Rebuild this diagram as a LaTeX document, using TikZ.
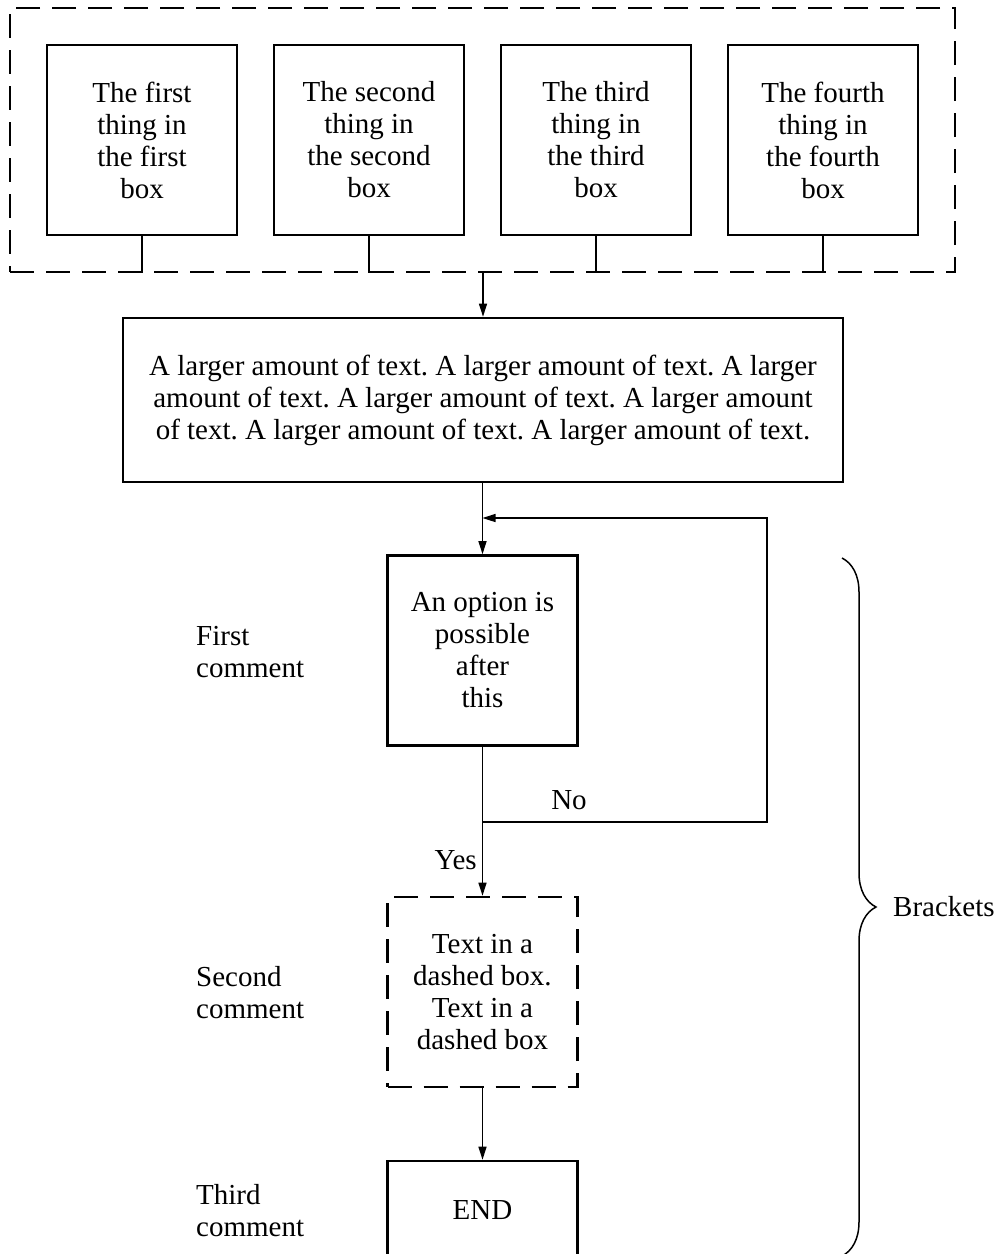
\documentclass[tikz,border=0pt]{standalone}
\usepackage{fontspec}
\setmainfont{Liberation Serif}
\usetikzlibrary{decorations.pathreplacing,arrows.meta}
\newcommand\myfs{\fontsize{29}{32}\selectfont\frenchspacing}
\begin{document}
\begin{tikzpicture}[x=1pt,y=-1pt,
  every node/.style={font=\myfs, inner sep=0pt},
  sqbox/.style={draw, line width=2.6pt, minimum width=190pt, minimum height=190pt, align=center},
  dashbox/.style={sqbox, dash pattern=on 24pt off 12pt},
  thin/.style={line width=1.5pt},
  arr/.style={thin, -{Triangle[length=13pt,width=8pt]}},
  lbl/.style={anchor=west, align=left}]
\useasboundingbox (0,0) rectangle (999,1254);
\clip (0,0) rectangle (999,1254);
% group
\node[draw, line width=2.6pt, dash pattern=on 24pt off 12pt, minimum width=945pt, minimum height=264pt] (grp) at (482.5,140) {};
\node[sqbox] (b1) at (142,140) {The first\\thing in\\the first\\box};
\node[sqbox] (b2) at (369,140) {The second\\thing in\\the second\\box};
\node[sqbox] (b3) at (596,140) {The third\\thing in\\the third\\box};
\node[sqbox] (b4) at (823,140) {The fourth\\thing in\\the fourth\\box};
\foreach \b in {b1,b2,b3,b4}{\draw[line width=2.6pt] (\b.south) -- (\b.south |- grp.south);}
% big box
\node[sqbox, minimum width=720pt, minimum height=164pt] (big) at (483,400)
  {A larger amount of text. A larger amount of text. A larger\\amount of text. A larger amount of text. A larger amount\\of text. A larger amount of text. A larger amount of text.};
\draw[arr] (grp.south -| big.north) -- (big.north);
% option box
\node[sqbox] (opt) at (482.5,650.5) {An option is\\possible\\after\\this};
\draw[arr] (big.south -| opt.north) -- (opt.north);
% dashed box
\node[dashbox] (dsh) at (482.5,992) {Text in a\\dashed box.\\Text in a\\dashed box};
\draw[arr] (opt.south) -- node[pos=0.76, anchor=east, xshift=-5pt] {Yes} (dsh.north);
% feedback
\coordinate (sp) at (482.5,822);
\coordinate (rt) at (767,822);
\coordinate (rt2) at (767,518);
\coordinate (mg) at (482.5,518);
\draw[arr] (sp) -- (rt) -- (rt2) -- (mg);
\node (no) at (569,800) {No};
% end
\node[sqbox, minimum height=98pt] (endb) at (482.5,1210) {END};
\draw[arr] (dsh.south) -- (endb.north);
% comments
\node[lbl] (c1) at (196,652) {First\\comment};
\node[lbl] (c2) at (196,993) {Second\\comment};
\node[lbl] (c3) at (196,1211) {Third\\comment};
% brace
\coordinate (bt) at (842,558);
\coordinate (bb) at (842,1256);
\draw[thin, decorate, decoration={brace, amplitude=34pt}] (bt) -- (bb);
\node[lbl] (br) at (893,907) {Brackets};
\end{tikzpicture}
\end{document}
